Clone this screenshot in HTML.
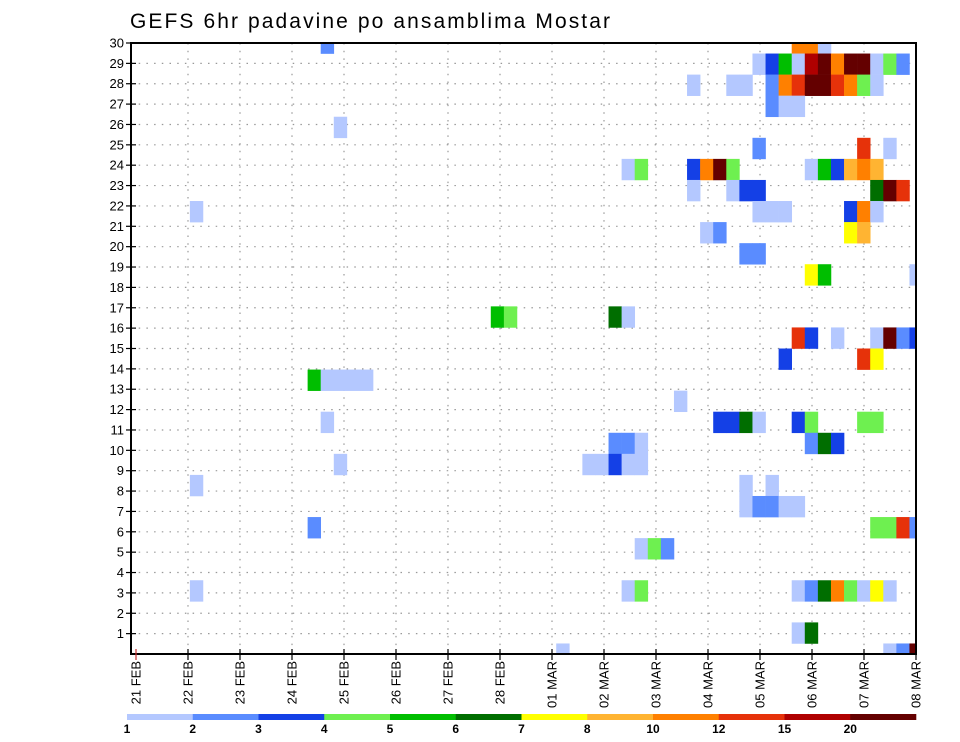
<!DOCTYPE html>
<html><head><meta charset="utf-8"><style>
html,body{margin:0;padding:0;background:#fff;width:960px;height:742px;overflow:hidden}
svg{display:block;font-family:"Liberation Sans",sans-serif}
</style></head><body>
<svg id="chart" width="960" height="742" viewBox="0 0 960 742" xmlns="http://www.w3.org/2000/svg">
<text x="130" y="28" font-size="21" fill="#000" textLength="480" lengthAdjust="spacing">GEFS 6hr padavine po ansamblima Mostar</text>
<defs><clipPath id="plotclip"><rect x="131" y="43" width="785" height="611"/></clipPath></defs>
<g id="grid"></g>
<g id="cells" clip-path="url(#plotclip)"></g>
<rect x="131" y="43" width="785" height="611" fill="none" stroke="#000" stroke-width="2"/>
<g id="axes"></g>
<g id="legend"></g>
</svg>
<script>
const dayLabels = ["21 FEB","22 FEB","23 FEB","24 FEB","25 FEB","26 FEB","27 FEB","28 FEB","01 MAR","02 MAR","03 MAR","04 MAR","05 MAR","06 MAR","07 MAR","08 MAR"];
const memberTicks = [1,2,3,4,5,6,7,8,9,10,11,12,13,14,15,16,17,18,19,20,21,22,23,24,25,26,27,28,29,30];
const levelLabels = ["1","2","3","4","5","6","7","8","10","12","15","20"];
const palette = ["#b4c8ff","#5a8cff","#1440e6","#6ef050","#00be00","#006e00","#ffff00","#ffb432","#ff8000","#e6320a","#af0000","#640000"];
// per ensemble member row: 6h time-step indices and precipitation class (1..12)
const rowMembers = [30,29,28,27,26,25,24,23,22,21,20,19,17,16,15,14,13,12,11,10,9,8,7,6,4,2,1];
const rowSteps = [
 [15,51,52,53],
 [48,49,50,51,52,53,54,55,56,57,58,59],
 [43,46,47,49,50,51,52,53,54,55,56,57],
 [49,50,51],
 [16],
 [48,56,58],
 [38,39,43,44,45,46,52,53,54,55,56,57],
 [43,46,47,48,57,58,59],
 [5,48,49,50,55,56,57],
 [44,45,55,56],
 [47,48],
 [52,53,60],
 [28,29,37,38],
 [51,52,54,57,58,59,60],
 [50,56,57],
 [14,15,16,17,18],
 [42],
 [15,45,46,47,48,51,52,56,57],
 [37,38,39,52,53,54],
 [16,35,36,37,38,39],
 [5,47,49],
 [47,48,49,50,51],
 [14,57,58,59,60],
 [39,40,41],
 [5,38,39,51,52,53,54,55,56,57,58],
 [51,52],
 [33,58,59,60]
];
const rowClasses = [
 [2,9,9,1],
 [1,3,5,1,11,12,9,12,12,1,4,2],
 [1,1,1,2,9,10,12,12,10,9,4,1],
 [2,1,1],
 [1],
 [2,10,1],
 [1,4,3,9,12,4,1,5,3,8,9,8],
 [1,1,3,3,6,12,10],
 [1,1,1,1,3,9,1],
 [1,2,7,8],
 [2,2],
 [7,5,1],
 [5,4,6,1],
 [10,3,1,1,12,2,3],
 [3,10,7],
 [5,1,1,1,1],
 [1],
 [1,3,3,6,1,3,4,4,4],
 [2,2,1,2,6,3],
 [1,1,1,3,1,1],
 [1,1,1],
 [1,2,2,1,1],
 [2,4,4,10,2],
 [1,4,2],
 [1,1,4,1,2,6,9,4,1,7,1],
 [1,6],
 [1,1,2,12]
];
const NS="http://www.w3.org/2000/svg";
function mk(tag,attrs,parent){const e=document.createElementNS(NS,tag);for(const k in attrs)e.setAttribute(k,attrs[k]);parent.appendChild(e);return e;}
const L=131,R=916,T=43,B=654;
const nSteps=60, nMem=30;
const xCell = s => L + s*(R-L)/nSteps;
const yCell = m => B - (m-1)*(B-T)/(nMem-1);
const cw=(R-L)/nSteps, ch=(B-T)/(nMem-1);
const xDay = d => 136 + d*(R-136)/(dayLabels.length-1);
const yTick = v => B - v*(B-T)/30;
const grid=document.getElementById('grid'), cells=document.getElementById('cells'), axes=document.getElementById('axes'), leg=document.getElementById('legend');
memberTicks.forEach(v=>{
  const y=yTick(v);
  if(v<30){const g=mk('line',{x1:L,x2:R,y1:y,y2:y,stroke:'#999','stroke-width':1.2,'stroke-dasharray':'1.5,6.2'},grid);
  
  }
  const t=mk('line',{x1:L-5,x2:L+5,y1:y,y2:y,stroke:'#000','stroke-width':1.2},axes);
  
  
  const tx=mk('text',{x:124,y:y+4.5,'font-size':13,'text-anchor':'end',fill:'#000'},axes);
  tx.textContent=v;
  
  
});
dayLabels.forEach((lab,d)=>{
  const x=xDay(d);
  if(d>0&&d<dayLabels.length-1){const g=mk('line',{x1:x,x2:x,y1:T,y2:B,stroke:'#999','stroke-width':1.2,'stroke-dasharray':'1.5,6.2'},grid);
  
  }
  const t=mk('line',{x1:x,x2:x,y1:B-5,y2:B+6,stroke:d==0?'#c33':'#000','stroke-width':1.2},axes);
  
  
  const tx=mk('text',{x:0,y:0,'font-size':13,'text-anchor':'end',fill:'#000',transform:`translate(${x+4.5},${B+7}) rotate(-90)`},axes);
  tx.textContent=lab;
  
  
});
rowMembers.forEach((m,ri)=>{
  rowSteps[ri].forEach((s,ci)=>{
    const r=mk('rect',{x:xCell(s)-cw/2,y:yCell(m)-ch/2,width:cw+0.3,height:ch+0.3,fill:palette[rowClasses[ri][ci]-1]},cells);
    
    
  });
});
const lx0=127,lx1=916,lw=(lx1-lx0)/palette.length;
palette.forEach((c,i)=>{
  const r=mk('rect',{x:lx0+i*lw,y:714,width:lw+0.3,height:6,fill:c},leg);
  
  
  const t=mk('text',{x:lx0+i*lw,y:733,'font-size':12,'font-weight':'bold','text-anchor':'middle',fill:'#000'},leg);
  t.textContent=levelLabels[i];
  
  
});
</script>
</body></html>
